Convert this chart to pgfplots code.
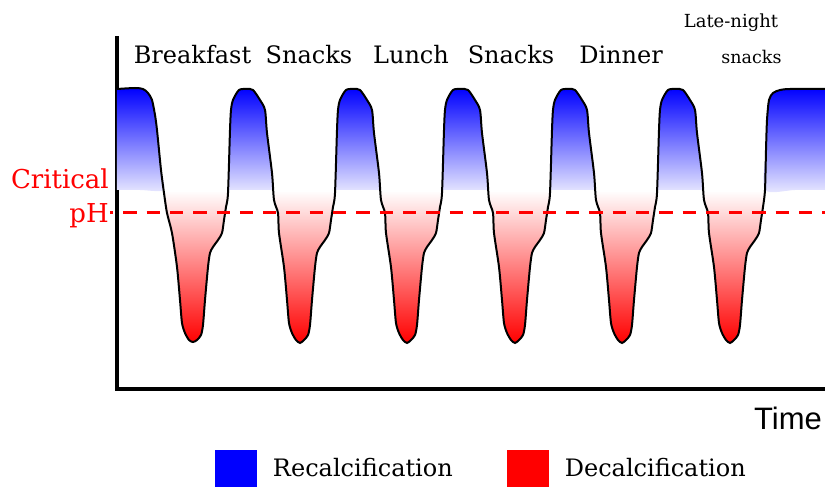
\documentclass[border=0pt]{standalone}
\usepackage{fontspec}
\setmainfont{DejaVu Serif}
\newfontfamily\sansf{Liberation Sans}
\usepackage{pgfplots}
\pgfplotsset{compat=1.18}
\begin{document}
\begin{tikzpicture}
\begin{axis}[
  scale only axis, width=708bp, height=351bp,
  xmin=117, xmax=825, ymin=98, ymax=449,
  axis x line*=bottom, axis y line*=left,
  axis line style={line width=4bp, black, line cap=rect},
  xtick=\empty, ytick=\empty,
  clip=false,
  unbounded coords=jump,
  legend columns=2,
  legend image code/.code={\fill[#1] (0bp,-18.5bp) rectangle (42bp,18.5bp);},
  legend style={at={(axis cs:215,18.5)}, anchor=west, draw=none, fill=none,
    inner sep=0pt, outer sep=0pt,
    font=\fontsize{24bp}{28bp}\selectfont,
    nodes={inner sep=0pt},
    /tikz/every odd column/.append style={column sep=16bp},
    /tikz/every even column/.append style={column sep=54bp}},
]
% Recalcification areas (curve above the threshold)
\addplot[draw=none, top color=blue, bottom color=blue!7!white, smooth, tension=0.45, forget plot] coordinates {
(117,398) (135,399) (143,398) (148,394) (152,387) (155,372) (157,357) (161,317) (163.6,297) (140,297) (117,297)
(200,nan)
(228.1,297) (230,357) (231,377) (233,387) (239,397) (247,398) (253,397) (260,387) (265,377) (267,354) (272,314) (273.3,297)
(300,nan)
(335.1,297) (337,357) (338,377) (340,387) (346,397) (354,398) (360,397) (367,387) (372,377) (374,354) (379,314) (380.3,297)
(400,nan)
(442.1,297) (444,357) (445,377) (447,387) (453,397) (461,398) (468,397) (475,387) (480,377) (482,354) (487,314) (488.3,297)
(500,nan)
(550.1,297) (552,357) (553,377) (555,387) (561,397) (569,398) (575,397) (582,387) (587,377) (589,354) (594,314) (595.3,297)
(600,nan)
(657.1,297) (659,357) (660,377) (662,387) (668,397) (676,398) (683,397) (690,387) (695,377) (697,354) (702,314) (703.3,297)
(730,nan)
(825,398) (790,398) (780,397) (773,394) (769,387) (767,367) (766,337) (765,297) (795,297) (825,297)
};
% Decalcification areas (curve below the critical level)
\addplot[draw=none, top color=white, bottom color=red, smooth, tension=0.45, forget plot] coordinates {
(163.9,295) (164,294) (167,274) (172,254) (177,220) (180,187) (182,164) (185,154) (189,147) (193,145) (197,147) (201,152) (203,162) (205,187) (208,220) (210,234) (213,240) (218,247) (222,254) (224,267) (226,280) (228,294) (228.03,295)
(250,nan)
(273.4,295) (274,287) (278,274) (279,254) (284,220) (287,187) (289,164) (292,154) (296,147) (300,144) (304,147) (308,152) (310,162) (312,187) (315,220) (317,234) (320,240) (325,247) (329,254) (331,267) (333,280) (335,294) (335.03,295)
(350,nan)
(380.4,295) (381,287) (385,274) (386,254) (391,220) (394,187) (396,164) (399,154) (403,147) (407,144) (411,147) (415,152) (417,162) (419,187) (422,220) (424,234) (427,240) (432,247) (436,254) (438,267) (440,280) (442,294) (442.03,295)
(460,nan)
(488.4,295) (489,287) (493,274) (494,254) (499,220) (502,187) (504,164) (507,154) (511,147) (515,144) (519,147) (523,152) (525,162) (527,187) (530,220) (532,234) (535,240) (540,247) (544,254) (546,267) (548,280) (550,294) (550.03,295)
(570,nan)
(595.4,295) (596,287) (600,274) (601,254) (606,220) (609,187) (611,164) (614,154) (618,147) (622,144) (626,147) (630,152) (632,162) (634,187) (637,220) (639,234) (642,240) (647,247) (651,254) (653,267) (655,280) (657,294) (657.03,295)
(680,nan)
(703.4,295) (704,287) (708,274) (709,254) (714,220) (717,187) (719,164) (722,154) (726,147) (730,144) (734,147) (738,152) (740,162) (742,187) (745,220) (747,234) (750,240) (755,247) (759,254) (761,267) (763,280) (764.7,295)
};
% pH curve
\addplot[draw=black, line width=2bp, smooth, tension=0.45, forget plot] coordinates {
(117,398) (135,399) (143,398) (148,394) (152,387) (155,372) (157,357) (161,317) (164,294) (167,274)
(172,254) (177,220) (180,187) (182,164) (185,154) (189,147) (193,145) (197,147) (201,152) (203,162) (205,187) (208,220) (210,234) (213,240) (218,247) (222,254) (224,267) (226,280) (228,294) (230,357) (231,377) (233,387) (239,397) (247,398)
(253,397) (260,387) (265,377) (267,354) (272,314) (274,287) (278,274) (279,254) (284,220) (287,187) (289,164) (292,154) (296,147) (300,144) (304,147) (308,152) (310,162) (312,187) (315,220) (317,234) (320,240) (325,247) (329,254) (331,267) (333,280) (335,294) (337,357) (338,377) (340,387) (346,397) (354,398)
(360,397) (367,387) (372,377) (374,354) (379,314) (381,287) (385,274) (386,254) (391,220) (394,187) (396,164) (399,154) (403,147) (407,144) (411,147) (415,152) (417,162) (419,187) (422,220) (424,234) (427,240) (432,247) (436,254) (438,267) (440,280) (442,294) (444,357) (445,377) (447,387) (453,397) (461,398)
(468,397) (475,387) (480,377) (482,354) (487,314) (489,287) (493,274) (494,254) (499,220) (502,187) (504,164) (507,154) (511,147) (515,144) (519,147) (523,152) (525,162) (527,187) (530,220) (532,234) (535,240) (540,247) (544,254) (546,267) (548,280) (550,294) (552,357) (553,377) (555,387) (561,397) (569,398)
(575,397) (582,387) (587,377) (589,354) (594,314) (596,287) (600,274) (601,254) (606,220) (609,187) (611,164) (614,154) (618,147) (622,144) (626,147) (630,152) (632,162) (634,187) (637,220) (639,234) (642,240) (647,247) (651,254) (653,267) (655,280) (657,294) (659,357) (660,377) (662,387) (668,397) (676,398)
(683,397) (690,387) (695,377) (697,354) (702,314) (704,287) (708,274) (709,254) (714,220) (717,187) (719,164) (722,154) (726,147) (730,144) (734,147) (738,152) (740,162) (742,187) (745,220) (747,234) (750,240) (755,247) (759,254) (761,267) (763,280) (765,297) (766,337) (767,367) (769,387) (773,394) (780,397) (790,398) (825,398)
};
\addplot[red, line width=3bp, dash pattern=on 13.3bp off 10bp, dash phase=10bp, forget plot]
  coordinates {(110,274.5) (825,274.5)};
\addlegendimage{fill=blue, draw=none}
\addlegendentry{Recalcification}
\addlegendimage{fill=red, draw=none}
\addlegendentry{Decalcification}
% labels
\node[anchor=base, inner sep=0pt, font=\fontsize{24bp}{28bp}\selectfont] at (axis cs:192.5,423) {Breakfast};
\node[anchor=base, inner sep=0pt, font=\fontsize{24bp}{28bp}\selectfont] at (axis cs:309,423) {Snacks};
\node[anchor=base, inner sep=0pt, font=\fontsize{24bp}{28bp}\selectfont] at (axis cs:411,423) {Lunch};
\node[anchor=base, inner sep=0pt, font=\fontsize{24bp}{28bp}\selectfont] at (axis cs:511,423) {Snacks};
\node[anchor=base, inner sep=0pt, font=\fontsize{24bp}{28bp}\selectfont] at (axis cs:621,423) {Dinner};
\node[anchor=base, inner sep=0pt, font=\fontsize{18bp}{20bp}\selectfont] at (axis cs:731,459) {Late-night};
\node[anchor=base, inner sep=0pt, font=\fontsize{17.5bp}{20bp}\selectfont] at (axis cs:751.5,423) {snacks};
\node[anchor=base east, inner sep=0pt, text=red, font=\fontsize{26bp}{30bp}\selectfont] at (axis cs:109,298) {Critical};
\node[anchor=base east, inner sep=0pt, text=red, font=\fontsize{26bp}{30bp}\selectfont] at (axis cs:109,264) {pH};
\node[anchor=base east, inner sep=0pt, font=\sansf\fontsize{31bp}{34bp}\selectfont] at (axis cs:822,58) {Time};
\coordinate (SW) at (axis cs:0,0);
\coordinate (NE) at (axis cs:825,487);
\end{axis}
\pgfresetboundingbox
\useasboundingbox (SW) rectangle (NE);
\end{tikzpicture}
\end{document}
